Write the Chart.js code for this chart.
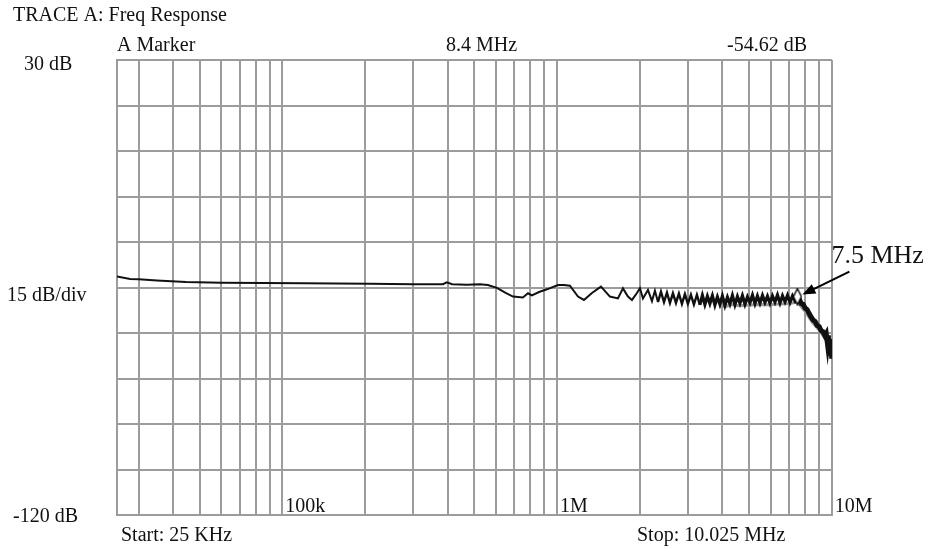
<!DOCTYPE html>
<html>
<head>
<meta charset="utf-8">
<title>TRACE A: Freq Response</title>
<script src="https://cdn.jsdelivr.net/npm/chart.js@4.4.1/dist/chart.umd.min.js"></script>
<style>
  html, body { margin: 0; padding: 0; background: #fff; }
  #wrap { position: relative; width: 928px; height: 549px; }
</style>
</head>
<body>
<div id="wrap"><canvas id="freqChart" width="928" height="549"></canvas></div>
<script>
// trace A (Hz, dB)
var traceFreq = [
  25000, 27900, 30000, 34900, 44600, 60000, 85000, 120000, 208000, 300000,
  384000, 397000, 415000, 470000, 524000, 560000, 604000, 650000, 691000, 751000,
  784000, 810000, 860000, 919000, 1008000, 1060000, 1114000, 1192000, 1253000, 1340000,
  1445000, 1558000, 1666000, 1738000, 1812000, 1874000, 1954000, 2004000, 2055000, 2143000,
  2216000, 2272000, 2330000, 2390000, 2451000, 2513000, 2577000, 2642000, 2710000, 2778000,
  2849000, 2921000, 2995000, 3072000, 3150000, 3230000, 3312000, 3382000, 3454000, 3527000,
  3602000, 3678000, 3756000, 3836000, 3917000, 4000000, 4085000, 4172000, 4260000, 4350000,
  4443000, 4537000, 4633000, 4731000, 4832000, 4934000, 5039000, 5146000, 5255000, 5366000,
  5480000, 5596000, 5715000, 5836000, 5960000, 6086000, 6215000, 6347000, 6482000, 6619000,
  6760000, 6903000, 7049000, 7199000, 7351000, 7500000, 7620000, 7750000, 7880000, 8000000,
  8140000, 8280000, 8400000, 8550000, 8700000, 8850000, 9000000, 9150000, 9300000, 9450000,
  9550000, 9650000, 9720000, 9800000, 9860000, 9920000, 9970000, 10000000, 10025000
];
var traceDb = [
  -41.4, -42.2, -42.3, -42.7, -43.2, -43.4, -43.5, -43.6, -43.8, -43.9,
  -43.9, -43.3, -43.9, -44.1, -43.9, -44.2, -45.1, -46.8, -48.0, -48.3,
  -46.9, -47.6, -46.5, -45.6, -44.2, -44.2, -44.4, -48.0, -49.1, -46.8,
  -44.7, -48.0, -48.6, -45.3, -48.0, -49.1, -46.8, -45.2, -48.6, -45.8,
  -49.5, -46.1, -49.8, -46.4, -49.8, -46.7, -50.1, -46.9, -50.1, -47.0,
  -50.4, -47.2, -50.4, -47.4, -50.6, -47.4, -50.7, -47.6, -50.6, -47.9,
  -50.3, -47.7, -50.8, -48.1, -50.5, -47.8, -50.9, -48.2, -50.4, -47.6,
  -50.7, -48.0, -50.2, -47.7, -50.5, -48.1, -50.0, -47.5, -50.3, -47.8,
  -50.1, -47.6, -49.9, -47.9, -50.2, -47.8, -49.8, -47.5, -50.1, -47.7,
  -49.7, -47.6, -49.9, -47.8, -49.4, -48.0, -48.9, -50.3, -50.6, -51.8,
  -52.3, -53.6, -54.6, -55.7, -56.2, -57.5, -57.9, -59.2, -59.6, -60.9,
  -60.2, -63.5, -60.8, -66.0, -62.0, -67.5, -63.5, -68.5, -65.0
];
// older sweep showing in grey under the trace
var holdFreq = [3900000, 4100000, 4300000, 4600000, 5000000, 5500000, 6000000, 6500000, 7000000, 7500000, 8000000, 8500000, 9000000, 9500000, 9800000, 10025000];
var holdDb = [-51.0, -51.3, -50.6, -51.0, -50.8, -50.6, -50.7, -50.4, -50.3, -49.8, -52.8, -56.5, -59.0, -62.0, -64.0, -66.0];

var markerFreq = 7500000;
var markerDb = -48.0;

var gridFreqs = [
  25000, 30000, 40000, 50000, 60000, 70000, 80000, 90000,
  100000, 200000, 300000, 400000, 500000, 600000, 700000, 800000, 900000,
  1000000, 2000000, 3000000, 4000000, 5000000, 6000000, 7000000, 8000000, 9000000,
  10000000, 10025000
];
var decadeFreqs = [100000, 1000000, 10000000];
var decadeLabels = ["100k", "1M", "10M"];

var FONT = "'Liberation Serif', 'Times New Roman', serif";

function toPoints(xs, ys) {
  return xs.map(function (f, i) { return { x: f, y: ys[i] }; });
}

function makeDiamond() {
  var c = document.createElement("canvas");
  c.width = 10;
  c.height = 18;
  var g = c.getContext("2d");
  g.beginPath();
  g.moveTo(5, 1);
  g.lineTo(9, 9);
  g.lineTo(5, 17);
  g.lineTo(1, 9);
  g.closePath();
  g.fillStyle = "#fff";
  g.fill();
  g.lineWidth = 1.4;
  g.strokeStyle = "#000";
  g.stroke();
  return c;
}

var screenText = {
  id: "screenText",
  afterDraw: function (chart) {
    var ctx = chart.ctx;
    var a = chart.chartArea;
    var xs = chart.scales.x;
    var ys = chart.scales.y;
    ctx.save();
    ctx.fillStyle = "#111";
    ctx.textBaseline = "alphabetic";
    ctx.textAlign = "left";
    ctx.font = "20px " + FONT;

    ctx.fillText("TRACE A: Freq Response", 13, 21);
    ctx.fillText("A Marker", a.left, a.top - 9);
    ctx.fillText("8.4 MHz", 446, a.top - 9);
    ctx.fillText("-54.62 dB", 727, a.top - 9);

    ctx.fillText("30 dB", 24, ys.getPixelForValue(30) + 10);
    ctx.fillText("15 dB/div", 7, ys.getPixelForValue(-45) + 13);
    ctx.fillText("-120 dB", 13, ys.getPixelForValue(-120) + 7);

    decadeFreqs.forEach(function (f, i) {
      ctx.fillText(decadeLabels[i], xs.getPixelForValue(f) + 3, a.bottom - 3);
    });

    ctx.fillText("Start: 25 KHz", a.left + 4, a.bottom + 26);
    ctx.fillText("Stop: 10.025 MHz", 637, a.bottom + 26);

    // marker callout
    var mx = xs.getPixelForValue(markerFreq);
    var my = ys.getPixelForValue(markerDb);
    ctx.font = "26px " + FONT;
    ctx.fillText("7.5 MHz", mx + 34, my - 34);

    var tipX = mx + 5, tipY = my - 2;
    var tailX = mx + 52, tailY = my - 25;
    var ang = Math.atan2(tipY - tailY, tipX - tailX);
    ctx.strokeStyle = "#000";
    ctx.lineWidth = 2;
    ctx.beginPath();
    ctx.moveTo(tailX, tailY);
    ctx.lineTo(tipX - 8 * Math.cos(ang), tipY - 8 * Math.sin(ang));
    ctx.stroke();
    ctx.beginPath();
    ctx.moveTo(tipX, tipY);
    ctx.lineTo(tipX - 14 * Math.cos(ang - 0.38), tipY - 14 * Math.sin(ang - 0.38));
    ctx.lineTo(tipX - 14 * Math.cos(ang + 0.38), tipY - 14 * Math.sin(ang + 0.38));
    ctx.closePath();
    ctx.fillStyle = "#000";
    ctx.fill();
    ctx.restore();
  }
};

new Chart(document.getElementById("freqChart"), {
  type: "line",
  data: {
    datasets: [
      {
        label: "Marker",
        data: [{ x: markerFreq, y: markerDb }],
        pointStyle: makeDiamond(),
        pointRadius: 6,
        showLine: false,
        order: 0
      },
      {
        label: "Trace A",
        data: toPoints(traceFreq, traceDb),
        borderColor: "#111",
        borderWidth: 2,
        pointRadius: 0,
        tension: 0,
        order: 1,
        segment: {
          borderWidth: function (ctx) {
            var f = ctx.p0.parsed.x;
            if (f >= 7500000) { return 5; }
            if (f >= 3300000) { return 3.2; }
            if (f >= 2300000) { return 2.4; }
            return 2;
          }
        }
      },
      {
        label: "Hold",
        data: toPoints(holdFreq, holdDb),
        borderColor: "#9a9a9a",
        borderWidth: 3,
        pointRadius: 0,
        tension: 0,
        order: 2
      }
    ]
  },
  options: {
    responsive: false,
    animation: false,
    events: [],
    layout: { padding: { left: 117, right: 96, top: 60, bottom: 34 } },
    scales: {
      x: {
        type: "logarithmic",
        min: 25000,
        max: 10025000,
        afterBuildTicks: function (scale) {
          scale.ticks = gridFreqs.map(function (v) { return { value: v }; });
        },
        afterFit: function (scale) { scale.height = 0; },
        ticks: { display: false },
        grid: { color: "#9c9c9c", lineWidth: 2, drawTicks: false },
        border: { display: true, color: "#9c9c9c", width: 2 }
      },
      y: {
        type: "linear",
        min: -120,
        max: 30,
        ticks: { display: false, stepSize: 15 },
        afterFit: function (scale) { scale.width = 0; },
        grid: { color: "#9c9c9c", lineWidth: 2, drawTicks: false },
        border: { display: true, color: "#9c9c9c", width: 2 }
      }
    },
    plugins: {
      legend: { display: false },
      tooltip: { enabled: false }
    }
  },
  plugins: [screenText]
});
</script>
</body>
</html>
